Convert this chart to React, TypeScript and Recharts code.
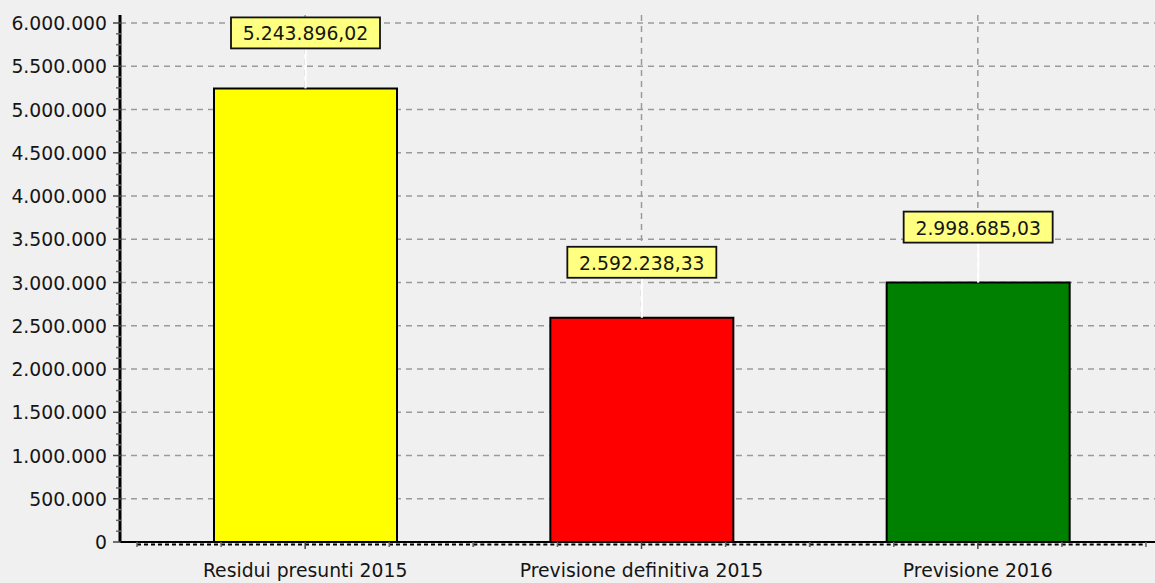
import React from "react";
import { BarChart, Bar, XAxis, YAxis, CartesianGrid, Cell, LabelList } from "recharts";

const categories = ["Residui presunti 2015", "Previsione definitiva 2015", "Previsione 2016"];
const values = [5243896.02, 2592238.33, 2998685.03];
const barColors = ["#ffff00", "#ff0000", "#008000"];
const yMajorTicks = [0, 500000, 1000000, 1500000, 2000000, 2500000, 3000000, 3500000, 4000000, 4500000, 5000000, 5500000, 6000000];
const yMinorDivisions = 4;

const data = categories.map((name, i) => ({ name, value: values[i] }));

const yAllTicks: number[] = [];
for (let i = 0; i < yMajorTicks.length; i++) {
  yAllTicks.push(yMajorTicks[i]);
  if (i < yMajorTicks.length - 1) {
    const step = (yMajorTicks[i + 1] - yMajorTicks[i]) / yMinorDivisions;
    for (let k = 1; k < yMinorDivisions; k++) yAllTicks.push(yMajorTicks[i] + step * k);
  }
}

const FONT = "'DejaVu Sans', Verdana, sans-serif";
const FS = 18.8;
const TEXT = "#151515";

const fmtInt = (v: number) => String(Math.round(v)).replace(/\B(?=(\d{3})+(?!\d))/g, ".");
const fmtDec = (v: number) => {
  const [i, d] = v.toFixed(2).split(".");
  return fmtInt(Number(i)) + "," + d;
};

const YTick = (props: any) => {
  const { x, y, payload } = props;
  const v = payload.value;
  const isMajor = yMajorTicks.includes(v);
  const axisX = x + 12;
  return (
    <g>
      <line x1={isMajor ? axisX - 7 : axisX - 4} x2={axisX + 1} y1={y} y2={y} stroke={isMajor ? "#444" : "#666"} strokeWidth={1.5} />
      {isMajor && (
        <text x={x - 1} y={y} dy={7} textAnchor="end" fontFamily={FONT} fontSize={FS} fill={TEXT}>
          {fmtInt(v)}
        </text>
      )}
    </g>
  );
};

const XTick = (props: any) => {
  const { x, y, payload } = props;
  const half = payload && typeof payload.offset === "number" && payload.offset > 0 ? payload.offset : 168;
  const minors = [-half, -half / 2, half / 2, half];
  return (
    <g>
      <line x1={x - half} x2={x + half} y1={y + 2.5} y2={y + 2.5} stroke="#000" strokeWidth={2} strokeDasharray="4 3" />
      <line x1={x} x2={x} y1={y} y2={y + 7} stroke="#444" strokeWidth={1.5} />
      {minors.map((m, i) => (
        <line key={i} x1={x + m} x2={x + m} y1={y} y2={y + 5} stroke="#666" strokeWidth={1.5} />
      ))}
      <text x={x} y={y + 35} textAnchor="middle" fontFamily={FONT} fontSize={FS} fill={TEXT}>
        {payload.value}
      </text>
    </g>
  );
};

const ValueLabel = (props: any) => {
  const vb = props.viewBox || {};
  const x = props.x ?? vb.x;
  const y = props.y ?? vb.y;
  const width = props.width ?? vb.width;
  const value = props.value;
  if (x == null || y == null || width == null) return null;
  const cx = x + width / 2;
  const boxW = 149;
  const boxH = 31;
  const gap = 40;
  return (
    <g>
      <line x1={cx} x2={cx} y1={y - gap} y2={y} stroke="#ffffff" strokeWidth={2.2} />
      <rect x={cx - boxW / 2} y={y - gap - boxH} width={boxW} height={boxH} fill="#ffff80" stroke="#111" strokeWidth={1.8} />
      <text x={cx} y={y - gap - 8} textAnchor="middle" fontFamily={FONT} fontSize={FS} fill={TEXT}>
        {fmtDec(Number(value))}
      </text>
    </g>
  );
};

export default function App() {
  return (
    <div
      style={{
        position: "absolute",
        left: 0,
        top: 0,
        width: 1155,
        height: 583,
        overflow: "hidden",
        background: "#f0f0f0",
      }}
    >
      <BarChart
        width={1170}
        height={583}
        data={data}
        margin={{ top: 15, right: 7, bottom: 0, left: 0 }}
      >
        <CartesianGrid
          stroke="#9a9a9a"
          strokeWidth={1.5}
          strokeDasharray="6 5"
          horizontalValues={yMajorTicks}
          vertical={true}
        />
        <XAxis
          dataKey="name"
          type="category"
          interval={0}
          height={41}
          padding={{ left: 17, right: 17 }}
          tickSize={0}
          tickMargin={0}
          tickLine={false}
          axisLine={{ stroke: "#000", strokeWidth: 2 }}
          tick={(p: any) => <XTick {...p} />}
        />
        <XAxis
          xAxisId="top"
          dataKey="name"
          orientation="top"
          height={0}
          tick={false}
          tickLine={false}
          axisLine={{ stroke: "#444", strokeWidth: 2 }}
          padding={{ left: 17, right: 17 }}
        />
        <YAxis
          type="number"
          domain={[0, 6000000]}
          ticks={yAllTicks}
          interval={0}
          width={120}
          padding={{ top: 8, bottom: 0 }}
          tickSize={7}
          tickMargin={5}
          tickLine={false}
          axisLine={{ stroke: "#000", strokeWidth: 3 }}
          tick={(p: any) => <YTick {...p} />}
          allowDataOverflow
        />
        <Bar dataKey="value" barSize={183} stroke="#000" strokeWidth={2} isAnimationActive={false}>
          {data.map((d, i) => (
            <Cell key={d.name} fill={barColors[i]} />
          ))}
          <LabelList dataKey="value" content={(p: any) => <ValueLabel {...p} />} />
        </Bar>
      </BarChart>
    </div>
  );
}
